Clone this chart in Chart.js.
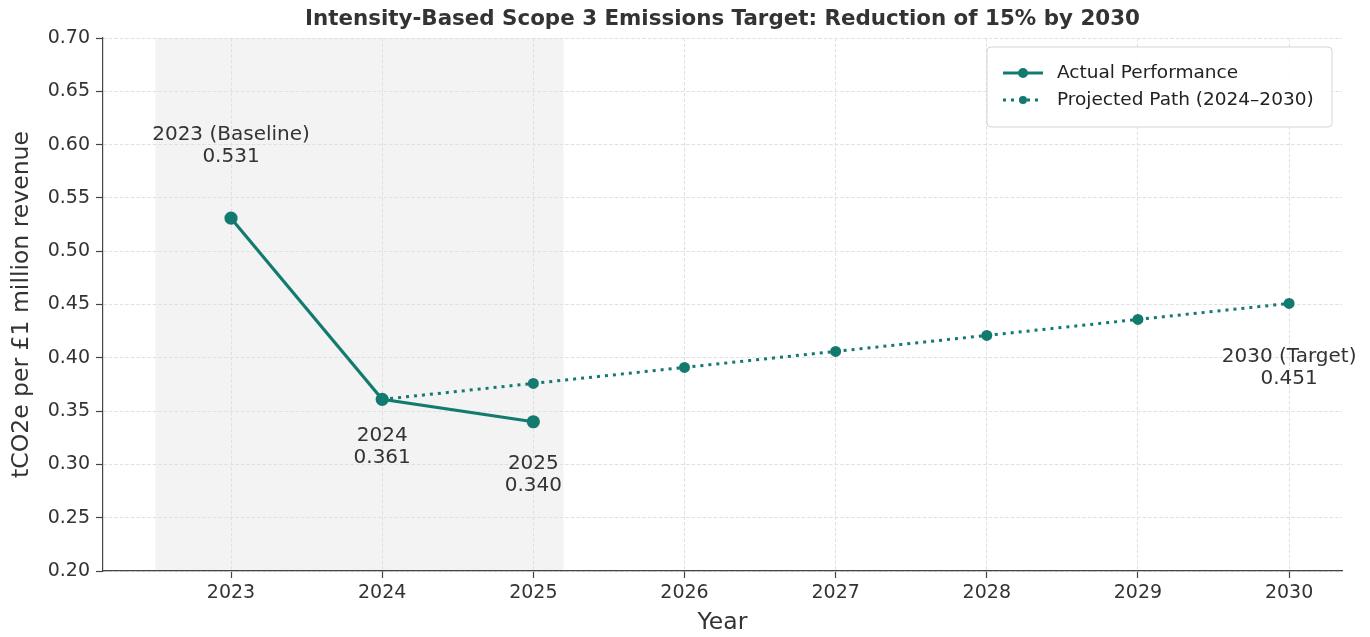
<!DOCTYPE html>
<html>
<head>
<meta charset="utf-8">
<script src="https://cdn.jsdelivr.net/npm/chart.js@4"></script>
<style>
  html, body { margin: 0; padding: 0; background: #fff; }
  #wrap { width: 1370px; height: 637px; position: relative; }
</style>
</head>
<body>
<div id="wrap"><canvas id="chart"></canvas></div>
<script>
const YEARS = [2023, 2024, 2025, 2026, 2027, 2028, 2029, 2030];
const ACTUAL_YEARS = [2023, 2024, 2025];
const ACTUAL_VALUES = [0.531, 0.361, 0.340];
const PROJECTED_YEARS = [2024, 2025, 2026, 2027, 2028, 2029, 2030];
const PROJECTED_VALUES = [0.361, 0.376, 0.391, 0.406, 0.421, 0.436, 0.451];

// annotation text: x position, first line y position (data units), two lines
const NOTE_X = [2023, 2024, 2025, 2030];
const NOTE_Y = [0.609, 0.327, 0.301, 0.401];
const NOTE_TOP = ['2023 (Baseline)', '2024', '2025', '2030 (Target)'];
const NOTE_BOTTOM = ['0.531', '0.361', '0.340', '0.451'];

const SHADE_FROM = 2022.5;
const SHADE_TO = 2025.2;

const TEAL = '#137a70';
const FONT = "'DejaVu Sans', sans-serif";

const bgPlugin = {
    id: 'bgShade',
    beforeDraw(chart) {
        const { ctx, chartArea, scales } = chart;
        ctx.save();
        ctx.fillStyle = '#fff';
        ctx.fillRect(0, 0, chart.width, chart.height);
        const x0 = scales.x.getPixelForValue(SHADE_FROM);
        const x1 = scales.x.getPixelForValue(SHADE_TO);
        ctx.fillStyle = '#f3f3f3';
        ctx.fillRect(x0, chartArea.top, x1 - x0, chartArea.bottom - chartArea.top);
        ctx.restore();
    }
};

const extrasPlugin = {
    id: 'extras',
    afterDraw(chart) {
        const { ctx, chartArea, scales } = chart;
        ctx.save();

        // title
        ctx.fillStyle = '#333';
        ctx.font = `bold 21.4px ${FONT}`;
        ctx.textAlign = 'center';
        ctx.textBaseline = 'middle';
        ctx.fillText('Intensity-Based Scope 3 Emissions Target: Reduction of 15% by 2030',
            (chartArea.left + chartArea.right) / 2, 19);

        // point notes
        ctx.font = `20px ${FONT}`;
        ctx.fillStyle = '#333';
        NOTE_X.forEach((xv, i) => {
            const px = scales.x.getPixelForValue(xv);
            const py = scales.y.getPixelForValue(NOTE_Y[i]);
            ctx.fillText(NOTE_TOP[i], px, py);
            ctx.fillText(NOTE_BOTTOM[i], px, py + 22);
        });

        // legend
        const bw = 345, bh = 80;
        const bx = chartArea.right - 10 - bw, by = chartArea.top + 9;
        ctx.beginPath();
        ctx.roundRect(bx, by, bw, bh, 4);
        ctx.fillStyle = 'rgba(255,255,255,0.85)';
        ctx.fill();
        ctx.strokeStyle = '#d6d6d6';
        ctx.lineWidth = 1;
        ctx.stroke();

        const rows = [
            { label: 'Actual Performance', dash: [], r: 5, y: by + 26 },
            { label: 'Projected Path (2024\u20132030)', dash: [3, 5], r: 4, y: by + 53 }
        ];
        rows.forEach(row => {
            ctx.strokeStyle = TEAL;
            ctx.lineWidth = 3;
            ctx.setLineDash(row.dash);
            ctx.beginPath();
            ctx.moveTo(bx + 16, row.y);
            ctx.lineTo(bx + 56, row.y);
            ctx.stroke();
            ctx.setLineDash([]);
            ctx.fillStyle = TEAL;
            ctx.beginPath();
            ctx.arc(bx + 36, row.y, row.r, 0, Math.PI * 2);
            ctx.fill();
            ctx.fillStyle = '#222';
            ctx.font = `18.5px ${FONT}`;
            ctx.textAlign = 'left';
            ctx.fillText(row.label, bx + 70, row.y);
        });

        ctx.restore();
    }
};

const ctx = document.getElementById('chart');

new Chart(ctx, {
    type: 'line',
    data: {
        datasets: [
            {
                label: 'Actual Performance',
                data: ACTUAL_YEARS.map((x, i) => ({ x, y: ACTUAL_VALUES[i] })),
                borderColor: TEAL, backgroundColor: TEAL,
                borderWidth: 3.2, pointRadius: 5, pointHoverRadius: 5,
                tension: 0, order: 1
            },
            {
                label: 'Projected Path (2024\u20132030)',
                data: PROJECTED_YEARS.map((x, i) => ({ x, y: PROJECTED_VALUES[i] })),
                borderColor: TEAL, backgroundColor: TEAL,
                borderWidth: 3, borderDash: [3, 5], borderCapStyle: 'butt',
                pointRadius: 4, pointHoverRadius: 4,
                tension: 0, order: 2
            }
        ]
    },
    options: {
        responsive: true, maintainAspectRatio: false, animation: false,
        layout: { padding: { top: 38, right: 28, left: 0, bottom: 0 } },
        plugins: {
            legend: { display: false },
            title: { display: false },
            tooltip: { enabled: false }
        },
        scales: {
            x: {
                type: 'linear', min: 2022.153, max: 2030.35,
                afterBuildTicks: scale => { scale.ticks = YEARS.map(v => ({ value: v })); },
                afterFit: scale => { scale.height = 66; },
                ticks: {
                    color: '#333', font: { family: FONT, size: 19 }, padding: 4,
                    callback: v => String(v)
                },
                grid: {
                    color: '#e0e0e0', lineWidth: 1,
                    tickColor: '#444', tickLength: 7, tickBorderDash: [0, 0], tickWidth: 1.2
                },
                border: { display: true, color: '#444', width: 1.2, dash: [3.5, 2] },
                title: {
                    display: true, text: 'Year', color: '#333',
                    font: { family: FONT, size: 23.5 }, padding: { top: 0, bottom: 0 }
                }
            },
            y: {
                min: 0.2, max: 0.7,
                afterFit: scale => { scale.width = 103; },
                ticks: {
                    stepSize: 0.05, color: '#333', font: { family: FONT, size: 19 }, padding: 6,
                    callback: v => v.toFixed(2)
                },
                grid: {
                    color: '#e0e0e0', lineWidth: 1,
                    tickColor: '#444', tickLength: 7, tickBorderDash: [0, 0], tickWidth: 1.2
                },
                border: { display: true, color: '#444', width: 1.2, dash: [3.5, 2] },
                title: {
                    display: true, text: 'tCO2e per \u00a31 million revenue', color: '#333',
                    font: { family: FONT, size: 23.5 }, padding: { top: 8, bottom: 0 }
                }
            }
        }
    },
    plugins: [bgPlugin, extrasPlugin]
});
</script>
</body>
</html>
